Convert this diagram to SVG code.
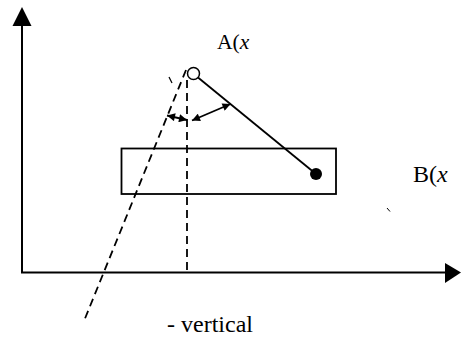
<svg xmlns="http://www.w3.org/2000/svg" width="461" height="339" viewBox="0 0 461 339">
<style>
.ln{stroke:#000;fill:none;stroke-width:1.8}
.ax{stroke:#000;fill:none;stroke-width:2}
.dash{stroke:#000;fill:none;stroke-width:1.8;stroke-dasharray:8,5}
.lbl{font-family:"Liberation Serif","Times New Roman",serif;font-size:24px;fill:#000}
</style>
<defs>
<marker id="ah" viewBox="0 0 10 10" refX="10" refY="5" markerWidth="9" markerHeight="8" markerUnits="userSpaceOnUse" orient="auto-start-reverse">
<path d="M0,0 L10,5 L0,10 z" fill="#000"/>
</marker>
</defs>
<rect width="461" height="339" fill="#fff"/>
<g id="axes">
<line class="ax" x1="22" y1="272.5" x2="22" y2="25"/>
<polygon points="22,7 12.5,26 31.5,26" fill="#000"/>
<line class="ax" x1="21" y1="272.5" x2="446" y2="272.5"/>
<polygon points="461,272.5 445,263 445,283" fill="#000"/>
</g>
<g id="rect">
<rect class="ln" x="121.5" y="148.5" width="214.5" height="45.5"/>
</g>
<g id="connectors">
<line class="dash" x1="187" y1="80" x2="187" y2="272"/>
<line class="dash" x1="186" y1="70" x2="84" y2="321"/>
<line class="ln" x1="198" y1="77.5" x2="316" y2="174"/>
<line class="ln" x1="167" y1="115.5" x2="187" y2="120" marker-start="url(#ah)" marker-end="url(#ah)"/>
<line class="ln" x1="192" y1="120.5" x2="230.5" y2="104" marker-start="url(#ah)" marker-end="url(#ah)"/>
<line class="ln" x1="169" y1="77" x2="172" y2="83" style="stroke-width:1.2"/>
<line class="ln" x1="387" y1="208" x2="390" y2="211.5" style="stroke-width:1"/>
</g>
<g id="nodeA">
<circle cx="193.5" cy="73.5" r="6" fill="#fff" stroke="#000" stroke-width="1.5"/>
<text class="lbl" x="217" y="49" style="font-size:21.5px">A(<tspan font-style="italic">x</tspan></text>
</g>
<g id="nodeB">
<circle cx="316" cy="174" r="6" fill="#000"/>
<text class="lbl" x="413" y="182">B(<tspan font-style="italic">x</tspan></text>
</g>
<g id="label-vertical">
<text class="lbl" x="167" y="332">- vertical</text>
</g>
</svg>
